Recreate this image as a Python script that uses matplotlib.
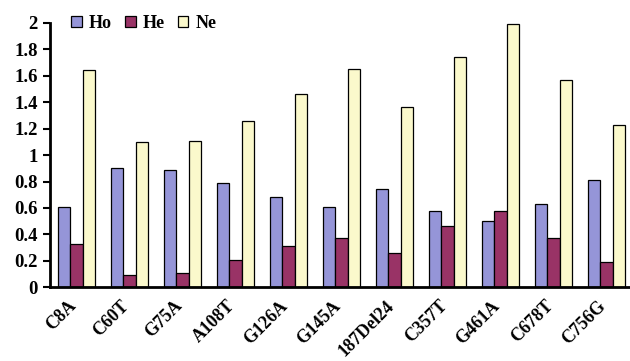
import numpy as np
import matplotlib.pyplot as plt
from matplotlib.transforms import ScaledTranslation

# values
sites = ['C8A', 'C60T', 'G75A', 'A108T', 'G126A', 'G145A', '187Del24',
         'C357T', 'G461A', 'C678T', 'C756G']
ho = [0.61, 0.90, 0.89, 0.79, 0.68, 0.61, 0.74, 0.58, 0.50, 0.63, 0.81]
he = [0.33, 0.09, 0.11, 0.21, 0.31, 0.37, 0.26, 0.46, 0.58, 0.37, 0.19]
ne = [1.64, 1.10, 1.11, 1.26, 1.46, 1.65, 1.36, 1.74, 1.99, 1.57, 1.23]
yticks = [0, 0.2, 0.4, 0.6, 0.8, 1, 1.2, 1.4, 1.6, 1.8, 2]
ytick_labels = ['0', '0.2', '0.4', '0.6', '0.8', '1', '1.2', '1.4', '1.6', '1.8', '2']

plt.rcParams['font.family'] = ['Liberation Serif', 'DejaVu Serif']
plt.rcParams['font.weight'] = 'bold'

fig = plt.figure(figsize=(6.3, 3.61), dpi=100)
ax = fig.add_axes([50 / 630, 73.7 / 361, 583 / 630, 264.5 / 361])

x = np.arange(len(sites))
w = 0.227
kw = dict(edgecolor='black', linewidth=0.9)
ax.bar(x - w, ho, w, color='#9595d8', label='Ho', **kw)
ax.bar(x, he, w, color='#993366', label='He', **kw)
ax.bar(x + w, ne, w, color='#fbf9cc', label='Ne', **kw)

ax.set_xlim(-0.5, len(sites) - 0.5)
ax.set_ylim(0, 2)
ax.set_yticks(yticks)
ax.set_yticklabels(ytick_labels, fontsize=13.5, fontweight='bold')
ax.set_xticks(x)
ax.set_xticklabels(sites, rotation=45, ha='right', va='top', rotation_mode='anchor',
                   fontsize=13, fontweight='bold')
ax.tick_params(axis='x', length=0, pad=0)
ax.tick_params(axis='y', length=5, width=1.5, direction='out', pad=4)

# shift the rotated labels so they end left of the group centre
shift = ScaledTranslation(-9 / 100, -10 / 100, fig.dpi_scale_trans)
for lab in ax.get_xticklabels():
    lab.set_transform(lab.get_transform() + shift)

for s in ['top', 'right']:
    ax.spines[s].set_visible(False)
for s in ['left', 'bottom']:
    ax.spines[s].set_linewidth(2)

ax.legend(loc='upper left', bbox_to_anchor=(62 / 630, 1.0 - 6 / 361), bbox_transform=fig.transFigure,
          ncol=3, frameon=False, fontsize=13, handlelength=0.6, handleheight=0.6,
          handletextpad=0.4, columnspacing=0.7, borderaxespad=0.1)

fig.savefig('out.png', dpi=100)
